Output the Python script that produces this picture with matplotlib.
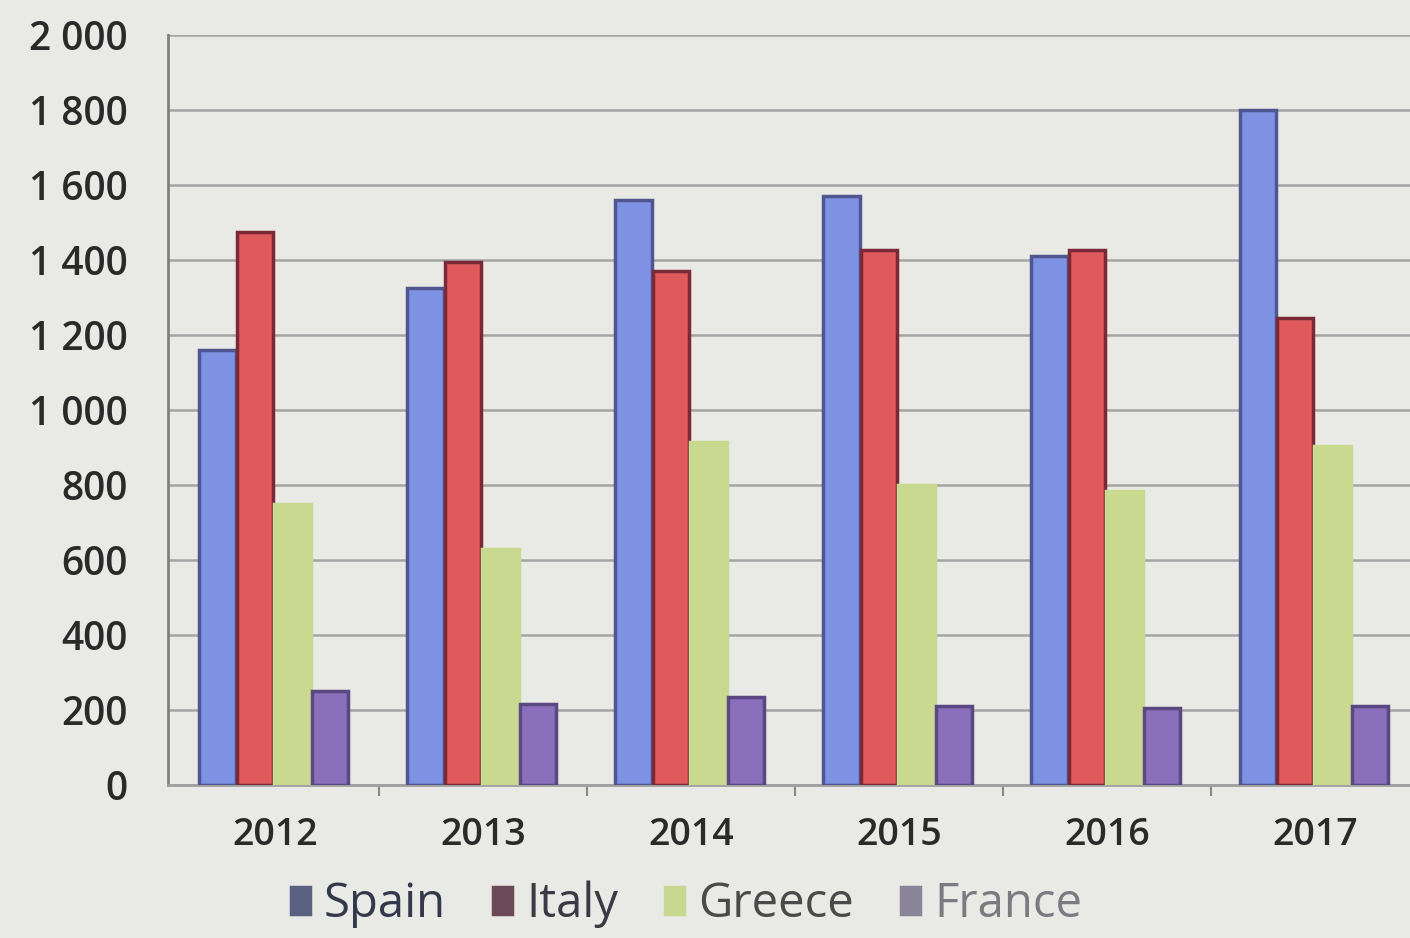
import matplotlib
matplotlib.use("Agg")
import matplotlib.pyplot as plt
import numpy as np

years = ["2012", "2013", "2014", "2015", "2016", "2017"]
series_names = ["Spain", "Italy", "Greece", "France"]
spain = [1160, 1325, 1560, 1570, 1410, 1800]
italy = [1475, 1395, 1370, 1425, 1425, 1245]
greece = [750, 630, 915, 800, 785, 905]
france = [250, 215, 235, 210, 205, 210]
yticks = [0, 200, 400, 600, 800, 1000, 1200, 1400, 1600, 1800, 2000]
ytick_labels = ["0", "200", "400", "600", "800", "1 000", "1 200", "1 400",
                "1 600", "1 800", "2 000"]

colors = ["#7f91e2", "#de5a5c", "#c9d98f", "#8a6fbd"]
edges = ["#4f5690", "#7a2a36", "#c9d98f", "#5a4880"]
legend_colors = ["#5a6080", "#6a4a58", "#c8d890", "#8a8498"]
offsets = [-0.275, -0.095, 0.085, 0.265]
width = 0.175

plt.rcParams['font.family'] = ['Open Sans', 'DejaVu Sans']
bg = "#e9e9e6"
fig = plt.figure(figsize=(14.1, 9.38), dpi=100, facecolor=bg)
ax = fig.add_axes([0.119, 0.163, 0.881, 0.8], facecolor=bg)

x = np.arange(len(years))
for vals, col, ec, off, name in zip([spain, italy, greece, france], colors, edges,
                                    offsets, series_names):
    ax.bar(x + off, vals, width=width, color=col, edgecolor=ec, linewidth=2.5,
           label=name, zorder=3)

ax.set_ylim(0, 2000)
ax.set_xlim(-0.514, 5.457)
ax.set_yticks(yticks)
ax.set_yticklabels(ytick_labels)
ax.set_xticks(x)
ax.set_xticklabels(years)
ax.set_xticks(np.arange(0.5, 5.5, 1.0), minor=True)
ax.tick_params(axis='y', length=0, pad=29, labelsize=28, colors="#2a2a2a")
ax.tick_params(axis='x', which='major', length=0, pad=22, labelsize=27,
               colors="#2a2a2a")
ax.tick_params(axis='x', which='minor', length=8, width=1.5, color="#888888")
for lbl in ax.get_yticklabels() + ax.get_xticklabels():
    lbl.set_fontweight('semibold')

ax.grid(axis='y', color="#a4a4a4", linewidth=1.8, zorder=0)
ax.set_axisbelow(True)
for s in ["top", "right"]:
    ax.spines[s].set_visible(False)
ax.spines["left"].set_color("#808080")
ax.spines["left"].set_linewidth(2)
ax.spines["bottom"].set_color("#a0a0a0")
ax.spines["bottom"].set_linewidth(2)

leg = fig.legend(loc="lower center", bbox_to_anchor=(0.487, -0.035), ncol=4,
                 frameon=False, fontsize=34, handlelength=0.4, handleheight=0.5,
                 handletextpad=0.3, columnspacing=1.0)
for patch, c in zip(leg.get_patches(), legend_colors):
    patch.set_facecolor(c)
    patch.set_edgecolor(c)
text_cols = ["#33384a", "#3a3a44", "#4a4a4a", "#7a7a80"]
for t, c in zip(leg.get_texts(), text_cols):
    t.set_color(c)

fig.savefig("out.png", dpi=100, facecolor=bg)
